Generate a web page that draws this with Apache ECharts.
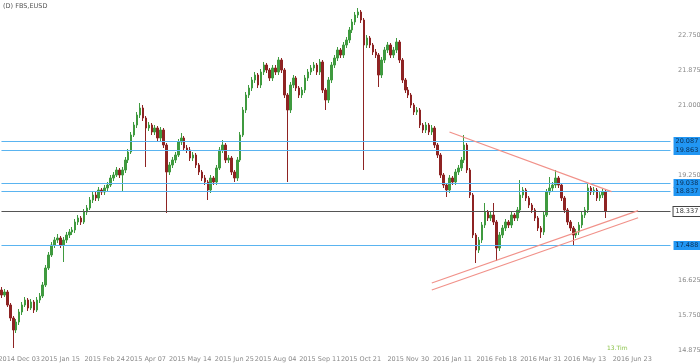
<!DOCTYPE html>
<html><head><meta charset="utf-8">
<script src="https://cdn.jsdelivr.net/npm/echarts@6/dist/echarts.min.js"></script>
<style>html,body{margin:0;padding:0;background:#fff}#c{width:700px;height:364px}</style>
</head><body><div id="c"></div>
<script>
const title = '(D) FBS,EUSD';
const tickLabels = ['2014 Dec 03','2015 Jan 15','2015 Feb 24','2015 Apr 07','2015 May 14','2015 Jun 25','2015 Aug 04','2015 Sep 11','2015 Oct 21','2015 Nov 30','2016 Jan 11','2016 Feb 18','2016 Mar 31','2016 May 13','2016 Jun 23'];
const tickIndex = [6,20,35,49,64,79,93,108,122,138,153,168,183,198,214];
const slotCount = 228;

const open = [16.375,16.25,16.325,16.0,15.675,15.375,15.575,15.825,16.0,16.125,
15.925,16.075,15.875,16.125,16.225,16.5,16.925,17.25,17.5,17.625,
17.675,17.5,17.625,17.75,17.825,17.875,18.075,18.175,18.075,18.325,
18.425,18.625,18.75,18.675,18.875,18.825,18.925,19.0,19.175,19.25,
19.375,19.25,19.375,19.625,19.825,20.25,20.5,20.75,20.925,20.675,
20.425,20.5,20.325,20.425,20.175,20.375,20.0,19.325,19.5,19.625,
19.75,20.075,20.175,19.925,19.875,19.675,19.75,19.5,19.325,19.175,
19.075,18.875,19.175,19.075,19.425,19.875,20.0,19.625,19.675,19.325,
19.175,19.625,20.25,20.875,21.25,21.425,21.625,21.75,21.5,21.825,
22.0,21.875,21.675,21.925,21.825,22.125,21.875,21.25,20.875,21.5,
21.675,21.425,21.25,21.375,21.675,21.825,21.925,22.0,21.825,22.075,
21.375,21.125,21.625,22.0,22.175,22.375,22.25,22.5,22.625,22.875,
23.075,23.25,23.325,23.125,22.5,22.675,22.5,22.325,22.25,21.75,
22.125,22.375,22.5,22.25,22.375,22.575,22.125,21.625,21.375,21.25,
21.0,20.825,20.875,20.5,20.375,20.5,20.325,20.425,20.0,19.75,
19.25,19.0,18.875,19.175,19.075,19.325,19.425,19.625,20.0,19.375,
18.75,17.75,17.375,17.625,18.0,18.325,18.175,18.25,18.075,17.425,
17.75,17.925,18.075,18.0,18.25,18.175,18.375,18.75,18.875,18.675,
18.5,18.375,18.175,17.925,17.825,18.25,18.825,18.925,19.0,19.175,
19.0,18.675,18.375,18.075,17.925,17.75,17.825,18.0,18.25,18.375,
18.925,18.825,18.875,18.675,18.75,18.825];

const close = [16.25,16.325,16.0,15.675,15.375,15.575,15.825,16.0,16.125,15.925,
16.075,15.875,16.125,16.225,16.5,16.925,17.25,17.5,17.625,17.675,
17.5,17.625,17.75,17.825,17.875,18.075,18.175,18.075,18.325,18.425,
18.625,18.75,18.675,18.875,18.825,18.925,19.0,19.175,19.25,19.375,
19.25,19.375,19.625,19.825,20.25,20.5,20.75,20.925,20.675,20.425,
20.5,20.325,20.425,20.175,20.375,20.0,19.325,19.5,19.625,19.75,
20.075,20.175,19.925,19.875,19.675,19.75,19.5,19.325,19.175,19.075,
18.875,19.175,19.075,19.425,19.875,20.0,19.625,19.675,19.325,19.175,
19.625,20.25,20.875,21.25,21.425,21.625,21.75,21.5,21.825,22.0,
21.875,21.675,21.925,21.825,22.125,21.875,21.25,20.875,21.5,21.675,
21.425,21.25,21.375,21.675,21.825,21.925,22.0,21.825,22.075,21.375,
21.125,21.625,22.0,22.175,22.375,22.25,22.5,22.625,22.875,23.075,
23.25,23.325,23.125,22.5,22.675,22.5,22.325,22.25,21.75,22.125,
22.375,22.5,22.25,22.375,22.575,22.125,21.625,21.375,21.25,21.0,
20.825,20.875,20.5,20.375,20.5,20.325,20.425,20.0,19.75,19.25,
19.0,18.875,19.175,19.075,19.325,19.425,19.625,20.0,19.375,18.75,
17.75,17.375,17.625,18.0,18.325,18.175,18.25,18.075,17.425,17.75,
17.925,18.075,18.0,18.25,18.175,18.375,18.75,18.875,18.675,18.5,
18.375,18.175,17.925,17.825,18.25,18.825,18.925,19.0,19.175,19.0,
18.675,18.375,18.075,17.925,17.75,17.825,18.0,18.25,18.375,18.925,
18.825,18.875,18.675,18.75,18.825,18.3375];

const low = [16.175,16.2,15.95,15.6,14.925,15.3,15.5,15.75,15.95,15.85,
15.875,15.8,15.825,16.05,16.175,16.45,16.875,17.2,17.425,17.55,
17.425,17.075,17.55,17.675,17.75,17.8,18.0,18.0,18.025,18.25,
18.375,18.55,18.6,18.6,18.75,18.75,18.85,18.95,19.1,19.2,
19.175,18.825,19.3,19.55,19.775,20.2,20.425,20.675,20.6,19.45,
20.35,20.25,20.25,20.1,20.1,19.925,18.3,19.25,19.425,19.55,
19.7,20.0,19.85,19.8,19.6,19.6,19.425,19.25,19.1,19.0,
18.625,18.8,19.0,19.0,19.375,19.8,19.55,19.55,19.25,19.075,
19.1,19.575,20.2,20.8,21.175,21.35,21.55,21.425,21.425,21.75,
21.8,21.6,21.6,21.75,21.75,21.8,21.175,19.075,20.8,21.425,
21.35,21.175,21.175,21.3,21.6,21.75,21.85,21.75,21.75,21.3,
20.875,21.05,21.55,21.925,22.1,22.175,22.175,22.425,22.55,22.8,
23.0,23.175,23.05,19.375,22.425,22.425,22.25,22.175,21.45,21.675,
22.05,22.3,22.175,22.175,22.3,22.05,21.55,21.3,21.175,20.925,
20.75,20.75,20.425,20.3,20.3,20.25,20.25,19.925,19.675,19.175,
18.925,18.7,18.8,19.0,19.0,19.25,19.35,19.55,19.3,18.675,
17.675,17.05,17.3,17.55,17.925,18.1,18.1,18.0,17.1,17.35,
17.675,17.85,17.925,17.925,18.1,18.1,18.3,18.675,18.6,18.425,
18.3,18.1,17.85,17.675,17.75,18.2,18.75,18.85,18.925,18.925,
18.6,18.3,18.0,17.85,17.5,17.675,17.75,17.925,18.175,18.3,
18.75,18.75,18.6,18.6,18.675,18.175];

const high = [16.45,16.4,16.375,16.05,15.725,15.65,15.9,16.075,16.2,16.175,
16.15,16.125,16.2,16.3,16.575,17.0,17.325,17.575,17.7,17.775,
17.725,17.7,17.825,17.9,17.95,18.15,18.25,18.225,18.4,18.5,
18.7,18.825,18.85,18.95,18.925,19.0,19.075,19.25,19.325,19.45,
19.425,19.45,19.7,19.9,20.325,20.575,20.825,21.05,21.0,20.725,
20.575,20.55,20.5,20.475,20.45,20.425,20.05,19.575,19.7,19.825,
20.15,20.3,20.225,20.0,19.95,19.825,19.8,19.55,19.375,19.25,
19.125,19.25,19.225,19.5,19.95,20.125,20.05,19.75,19.725,19.375,
19.7,20.325,20.95,21.325,21.5,21.7,21.825,21.8,21.9,22.075,
22.05,21.925,22.0,22.0,22.2,22.175,21.925,21.3,21.575,21.75,
21.725,21.475,21.45,21.75,21.9,22.0,22.075,22.05,22.15,22.125,
21.425,21.7,22.075,22.25,22.45,22.425,22.575,22.7,22.95,23.15,
23.325,23.425,23.375,23.175,22.75,22.725,22.55,22.4,22.3,22.2,
22.45,22.575,22.55,22.45,22.675,22.625,22.175,21.675,21.45,21.3,
21.05,20.95,20.925,20.55,20.575,20.55,20.5,20.475,20.05,19.8,
19.3,19.05,19.25,19.225,19.4,19.5,19.7,20.25,20.05,19.425,
18.8,17.8,17.7,18.075,18.55,18.375,18.325,18.55,18.125,17.825,
18.0,18.15,18.125,18.325,18.3,18.45,19.125,18.95,18.925,18.725,
18.55,18.425,18.225,17.975,18.325,18.9,19.2,19.075,19.375,19.225,
19.05,18.725,18.425,18.125,17.975,17.9,18.075,18.325,18.45,19.05,
18.975,18.95,18.925,18.825,18.9,18.875];

const levels = [20.0875, 19.8625, 19.0375, 18.8375, 17.4875];
const currentPrice = 18.3375;
const upperTrend = [[152, 20.325], [207, 18.835]];
const lowerTrend1 = [[146, 16.55], [216, 18.358]];
const lowerTrend2 = [[146, 16.375], [216, 18.18]];
const countdown = '13.Tim';

const categories = [];
for (let i = 0; i < slotCount; i++) categories.push(String(i));
const candles = open.map((o, i) => [o, close[i], low[i], high[i]]);
const labelMap = {};
tickIndex.forEach((k, j) => { labelMap[k] = tickLabels[j]; });

const chart = echarts.init(document.getElementById('c'), null, {renderer: 'canvas'});
const lblFont = {fontSize: 6.5, fontFamily: 'DejaVu Sans'};
const first = categories[0], last = categories[slotCount - 1];
const markLines = levels.map(v => ([
  {coord: [first, v], lineStyle: {color: '#5ab4f0', width: 1, type: 'solid'},
   label: {show: true, position: 'end', distance: 3, formatter: v.toFixed(3),
     backgroundColor: '#2196f3', color: '#0b2f55', padding: [1, 2], ...lblFont}},
  {coord: [last, v]}
]));
markLines.push([
  {coord: [first, currentPrice], lineStyle: {color: '#555', width: 1, type: 'solid'},
   label: {show: true, position: 'end', distance: 3, formatter: currentPrice.toFixed(3),
     backgroundColor: '#fff', borderColor: '#444', borderWidth: 1, color: '#333', padding: [1, 2], ...lblFont}},
  {coord: [last, currentPrice]}
]);
[upperTrend, lowerTrend1, lowerTrend2].forEach(t => {
  markLines.push([
    {coord: [String(t[0][0]), t[0][1]], lineStyle: {color: '#f19189', width: 1.2, type: 'solid'}, label: {show: false}},
    {coord: [String(t[1][0]), t[1][1]]}
  ]);
});

chart.setOption({
  animation: false,
  backgroundColor: '#fff',
  grid: {left: 0, right: 28, top: 0, height: 385, containLabel: false, outerBoundsMode: 'none'},
  xAxis: {
    type: 'category', data: categories, boundaryGap: true,
    axisLine: {show: false}, axisTick: {show: false}, splitLine: {show: false},
    axisLabel: {inside: true, margin: 22, color: '#8a8a8a', ...lblFont,
      interval: (idx) => labelMap[idx] !== undefined,
      formatter: (val, idx) => labelMap[idx] || ''}
  },
  yAxis: {
    type: 'value', position: 'right', min: 14, max: 23.625, interval: 0.875, scale: true,
    axisLine: {show: false}, axisTick: {show: false}, splitLine: {show: false},
    axisLabel: {margin: 6, color: '#8a8a8a', ...lblFont, showMaxLabel: false, showMinLabel: false,
      formatter: v => v.toFixed(3)}
  },
  graphic: [
    {type: 'text', left: 3, top: 3, style: {text: title, fill: '#555', font: '6.5px DejaVu Sans'}},
    {type: 'text', left: 607, top: 345, style: {text: countdown, fill: '#8bc34a', font: '6px DejaVu Sans'}}
  ],
  series: [{
    type: 'candlestick',
    data: candles,
    barWidth: 2,
    itemStyle: {color: '#3f9a3f', color0: '#8e2323', borderColor: '#3f9a3f', borderColor0: '#8e2323', borderWidth: 1},
    markLine: {silent: true, symbol: ['none', 'none'], animation: false, data: markLines}
  }]
});
</script>
</body></html>
